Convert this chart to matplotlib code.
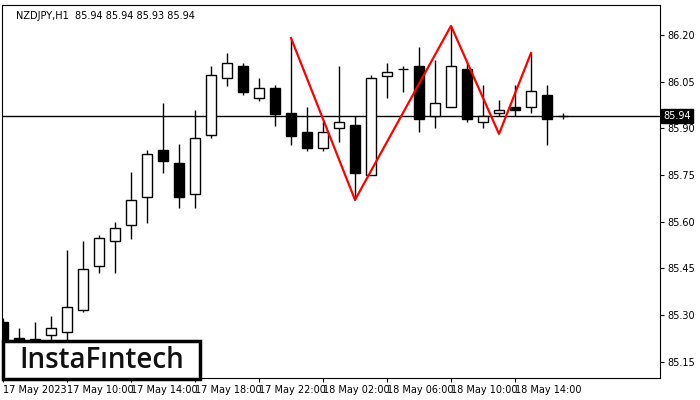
import matplotlib
matplotlib.use("Agg")
import matplotlib.pyplot as plt
from matplotlib.patches import Rectangle

opens  = [85.278,85.225,85.215,85.236,85.246,85.317,85.458,85.538,85.590,85.680,85.831,85.789,85.689,85.879,86.062,86.100,85.998,86.030,85.950,85.888,85.837,85.901,85.911,85.750,86.068,86.091,86.100,85.940,85.969,86.091,85.921,85.949,85.969,85.969,86.007,85.940]
highs  = [85.290,85.259,85.278,85.297,85.509,85.538,85.558,85.599,85.760,85.830,85.982,85.850,85.959,86.100,86.142,86.110,86.062,86.040,86.190,85.969,85.924,86.100,85.940,86.072,86.110,86.100,86.161,86.120,86.229,86.110,86.039,85.991,86.039,86.142,86.039,85.949]
lows   = [85.180,85.190,85.190,85.210,85.200,85.310,85.436,85.436,85.545,85.596,85.757,85.644,85.644,85.869,86.036,86.007,85.988,85.908,85.847,85.827,85.827,85.856,85.670,85.750,85.998,86.017,85.888,85.901,85.969,85.921,85.901,85.940,85.940,85.949,85.847,85.930]
closes = [85.200,85.215,85.224,85.259,85.326,85.448,85.548,85.580,85.670,85.818,85.795,85.680,85.869,86.072,86.110,86.017,86.030,85.946,85.876,85.837,85.888,85.921,85.757,86.062,86.081,86.092,85.930,85.982,86.100,85.930,85.940,85.959,85.959,86.020,85.930,85.940]
pattern_idx = [18, 22, 28, 31, 33]
pattern_px = [86.190, 85.670, 86.229, 85.882, 86.142]
yticks = [85.15, 85.30, 85.45, 85.60, 85.75, 85.90, 86.05, 86.20]
xtick_idx = [0, 4, 8, 12, 16, 20, 24, 28, 32]
xtick_labels = ["17 May 2023", "17 May 10:00", "17 May 14:00", "17 May 18:00", "17 May 22:00",
                "18 May 02:00", "18 May 06:00", "18 May 10:00", "18 May 14:00"]
current = 85.94

fig = plt.figure(figsize=(7, 4), dpi=100)
ax = fig.add_axes([2/700, 22/400, 658/700, 373/400])
ax.set_xlim(-0.06, 41.06)
ax.set_ylim(85.098, 86.296)

w = 0.62
for i, (o, h, l, c) in enumerate(zip(opens, highs, lows, closes)):
    ax.vlines(i, l, h, color="black", lw=1, zorder=2)
    bottom, top = min(o, c), max(o, c)
    ht = max(top - bottom, 0.001)
    ax.add_patch(Rectangle((i - w/2, bottom), w, ht, facecolor="black" if c < o else "white",
                           edgecolor="black", lw=1, zorder=3))

ax.axhline(current, color="black", lw=1, zorder=1)
ax.plot(pattern_idx, pattern_px, color="red", lw=1.6, zorder=4)

ax.yaxis.tick_right()
ax.set_yticks(yticks)
ax.set_yticklabels([f"{v:.2f}" for v in yticks], fontsize=7)
ax.set_xticks(xtick_idx)
ax.set_xticklabels(xtick_labels, fontsize=7, ha="left")
ax.tick_params(axis="both", length=3, pad=2)
ax.text(1.005, (current - 85.098) / (86.296 - 85.098), f"{current:.2f}", transform=ax.transAxes,
        fontsize=7, color="white", va="center", ha="left",
        bbox=dict(boxstyle="square,pad=0.2", fc="black", ec="black"))
ax.text(0.022, 0.985, "NZDJPY,H1  85.94 85.94 85.93 85.94", transform=ax.transAxes,
        fontsize=7, va="top", ha="left")

ax.add_patch(Rectangle((3/700, 21/400), 197/700, 38/400, transform=fig.transFigure,
                       facecolor="white", edgecolor="black", lw=2.5, zorder=10, clip_on=False))
fig.text(102/700, 40/400, "InstaFıntech", fontsize=20, family="Open Sans", weight="semibold",
         ha="center", va="center", color="#111", zorder=11)

fig.savefig("out.png", dpi=100)
